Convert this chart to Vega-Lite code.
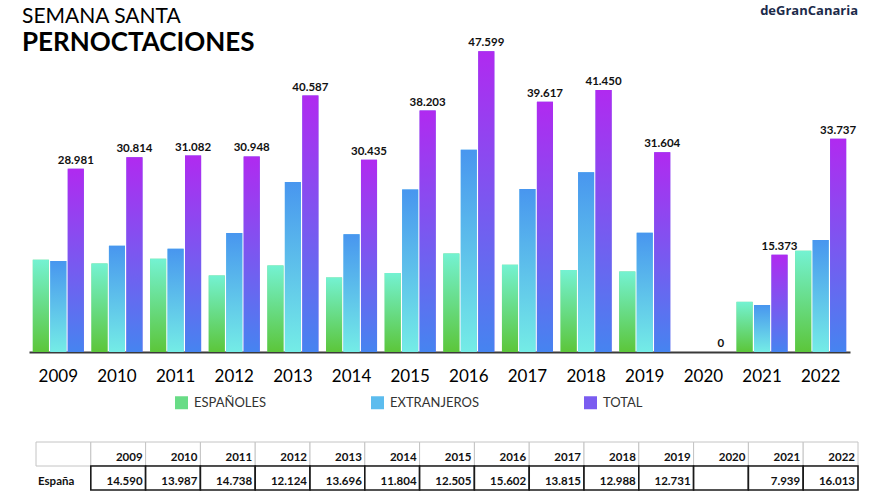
{
  "$schema": "https://vega.github.io/schema/vega-lite/v6.json",
  "padding": {"left": 22, "top": 0, "right": 0, "bottom": 0},
  "background": "white",
  "bounds": "flush",
  "spacing": 90,
  "title": {
    "text": "SEMANA SANTA",
    "subtitle": "PERNOCTACIONES",
    "anchor": "start",
    "orient": "top",
    "frame": "group",
    "offset": -56,
    "dx": -7,
    "font": "Lato",
    "fontSize": 21,
    "fontWeight": "normal",
    "color": "#000000",
    "subtitleFont": "Lato",
    "subtitleFontSize": 26,
    "subtitleFontWeight": "bold",
    "subtitleColor": "#000000",
    "subtitlePadding": 3
  },
  "datasets": {
    "barras": [
      {"anio": "2009", "serie": "ESPAÑOLES", "valor": 14590},
      {"anio": "2009", "serie": "EXTRANJEROS", "valor": 14391},
      {"anio": "2009", "serie": "TOTAL", "valor": 28981},
      {"anio": "2010", "serie": "ESPAÑOLES", "valor": 13987},
      {"anio": "2010", "serie": "EXTRANJEROS", "valor": 16827},
      {"anio": "2010", "serie": "TOTAL", "valor": 30814},
      {"anio": "2011", "serie": "ESPAÑOLES", "valor": 14738},
      {"anio": "2011", "serie": "EXTRANJEROS", "valor": 16344},
      {"anio": "2011", "serie": "TOTAL", "valor": 31082},
      {"anio": "2012", "serie": "ESPAÑOLES", "valor": 12124},
      {"anio": "2012", "serie": "EXTRANJEROS", "valor": 18824},
      {"anio": "2012", "serie": "TOTAL", "valor": 30948},
      {"anio": "2013", "serie": "ESPAÑOLES", "valor": 13696},
      {"anio": "2013", "serie": "EXTRANJEROS", "valor": 26891},
      {"anio": "2013", "serie": "TOTAL", "valor": 40587},
      {"anio": "2014", "serie": "ESPAÑOLES", "valor": 11804},
      {"anio": "2014", "serie": "EXTRANJEROS", "valor": 18631},
      {"anio": "2014", "serie": "TOTAL", "valor": 30435},
      {"anio": "2015", "serie": "ESPAÑOLES", "valor": 12505},
      {"anio": "2015", "serie": "EXTRANJEROS", "valor": 25698},
      {"anio": "2015", "serie": "TOTAL", "valor": 38203},
      {"anio": "2016", "serie": "ESPAÑOLES", "valor": 15602},
      {"anio": "2016", "serie": "EXTRANJEROS", "valor": 31997},
      {"anio": "2016", "serie": "TOTAL", "valor": 47599},
      {"anio": "2017", "serie": "ESPAÑOLES", "valor": 13815},
      {"anio": "2017", "serie": "EXTRANJEROS", "valor": 25802},
      {"anio": "2017", "serie": "TOTAL", "valor": 39617},
      {"anio": "2018", "serie": "ESPAÑOLES", "valor": 12988},
      {"anio": "2018", "serie": "EXTRANJEROS", "valor": 28462},
      {"anio": "2018", "serie": "TOTAL", "valor": 41450},
      {"anio": "2019", "serie": "ESPAÑOLES", "valor": 12731},
      {"anio": "2019", "serie": "EXTRANJEROS", "valor": 18873},
      {"anio": "2019", "serie": "TOTAL", "valor": 31604},
      {"anio": "2020", "serie": "TOTAL", "valor": 0},
      {"anio": "2021", "serie": "ESPAÑOLES", "valor": 7939},
      {"anio": "2021", "serie": "EXTRANJEROS", "valor": 7434},
      {"anio": "2021", "serie": "TOTAL", "valor": 15373},
      {"anio": "2022", "serie": "ESPAÑOLES", "valor": 16013},
      {"anio": "2022", "serie": "EXTRANJEROS", "valor": 17724},
      {"anio": "2022", "serie": "TOTAL", "valor": 33737}
    ],
    "tabla": [
      {"fila": "Año", "col": "", "texto": ""},
      {"fila": "Año", "col": "2009", "texto": "2009"},
      {"fila": "Año", "col": "2010", "texto": "2010"},
      {"fila": "Año", "col": "2011", "texto": "2011"},
      {"fila": "Año", "col": "2012", "texto": "2012"},
      {"fila": "Año", "col": "2013", "texto": "2013"},
      {"fila": "Año", "col": "2014", "texto": "2014"},
      {"fila": "Año", "col": "2015", "texto": "2015"},
      {"fila": "Año", "col": "2016", "texto": "2016"},
      {"fila": "Año", "col": "2017", "texto": "2017"},
      {"fila": "Año", "col": "2018", "texto": "2018"},
      {"fila": "Año", "col": "2019", "texto": "2019"},
      {"fila": "Año", "col": "2020", "texto": "2020"},
      {"fila": "Año", "col": "2021", "texto": "2021"},
      {"fila": "Año", "col": "2022", "texto": "2022"},
      {"fila": "España", "col": "", "texto": "España"},
      {"fila": "España", "col": "2009", "texto": "14.590"},
      {"fila": "España", "col": "2010", "texto": "13.987"},
      {"fila": "España", "col": "2011", "texto": "14.738"},
      {"fila": "España", "col": "2012", "texto": "12.124"},
      {"fila": "España", "col": "2013", "texto": "13.696"},
      {"fila": "España", "col": "2014", "texto": "11.804"},
      {"fila": "España", "col": "2015", "texto": "12.505"},
      {"fila": "España", "col": "2016", "texto": "15.602"},
      {"fila": "España", "col": "2017", "texto": "13.815"},
      {"fila": "España", "col": "2018", "texto": "12.988"},
      {"fila": "España", "col": "2019", "texto": "12.731"},
      {"fila": "España", "col": "2020", "texto": ""},
      {"fila": "España", "col": "2021", "texto": "7.939"},
      {"fila": "España", "col": "2022", "texto": "16.013"}
    ]
  },
  "vconcat": [
    {
      "width": 821,
      "height": 352,
      "data": {"name": "barras"},
      "title": {
        "text": "deGranCanaria",
        "anchor": "end",
        "orient": "top",
        "frame": "group",
        "offset": -18,
        "dx": 8,
        "font": "Open Sans",
        "fontSize": 13,
        "fontWeight": "bold",
        "color": "#1c2b4a"
      },
      "encoding": {
        "x": {
          "field": "anio",
          "type": "nominal",
          "scale": {"paddingInner": 0.13, "paddingOuter": 0.065},
          "axis": {
            "title": null,
            "labelAngle": 0,
            "labelFont": "Lato",
            "labelFontSize": 17,
            "labelColor": "#000000",
            "ticks": false,
            "domainColor": "#3a3a3a",
            "domainWidth": 2,
            "labelPadding": 16
          }
        },
        "xOffset": {
          "field": "serie",
          "type": "nominal",
          "sort": ["ESPAÑOLES", "EXTRANJEROS", "TOTAL"],
          "scale": {"paddingInner": 0.08, "paddingOuter": 0}
        },
        "y": {
          "field": "valor",
          "type": "quantitative",
          "scale": {"domain": [0, 55700], "nice": false},
          "axis": null
        }
      },
      "layer": [
        {
          "mark": {"type": "bar"},
          "encoding": {
            "color": {
              "field": "serie",
              "type": "nominal",
              "scale": {
                "domain": ["ESPAÑOLES", "EXTRANJEROS", "TOTAL"],
                "range": ["#68dc86", "#5cbcee", "#7a5cf0"]
              },
              "legend": {
                "title": null,
                "orient": "none",
                "legendX": 146,
                "legendY": 396,
                "direction": "horizontal",
                "symbolType": "square",
                "symbolSize": 169,
                "symbolStrokeWidth": 0,
                "symbolOpacity": 1,
                "labelFont": "Lato",
                "labelFontSize": 13,
                "labelColor": "#333333",
                "labelOffset": 6,
                "columnPadding": 104
              }
            }
          }
        },
        {
          "transform": [{"filter": "datum.serie == 'ESPAÑOLES'"}],
          "mark": {
            "type": "bar",
            "color": {"gradient": "linear", "x1": 0, "y1": 0, "x2": 0, "y2": 1, "stops": [{"offset": 0, "color": "#74f2d2"}, {"offset": 1, "color": "#5cc63a"}]}
          },
          "encoding": {}
        },
        {
          "transform": [{"filter": "datum.serie == 'EXTRANJEROS'"}],
          "mark": {
            "type": "bar",
            "color": {"gradient": "linear", "x1": 0, "y1": 0, "x2": 0, "y2": 1, "stops": [{"offset": 0, "color": "#4896ef"}, {"offset": 1, "color": "#74ece6"}]}
          },
          "encoding": {}
        },
        {
          "transform": [{"filter": "datum.serie == 'TOTAL'"}],
          "mark": {
            "type": "bar",
            "color": {"gradient": "linear", "x1": 0, "y1": 0, "x2": 0, "y2": 1, "stops": [{"offset": 0, "color": "#b02af0"}, {"offset": 1, "color": "#4684f0"}]}
          },
          "encoding": {}
        },
        {
          "transform": [{"filter": "datum.serie == 'TOTAL'"}],
          "mark": {
            "type": "text",
            "font": "Lato",
            "fontSize": 11.5,
            "fontWeight": "bold",
            "color": "#111111",
            "baseline": "alphabetic",
            "dy": -5
          },
          "encoding": {
            "text": {"field": "valor", "type": "quantitative", "format": ",d"}
          }
        }
      ]
    },
    {
      "width": 829,
      "height": 48,
      "data": {"name": "tabla"},
      "encoding": {
        "x": {
          "field": "col",
          "type": "nominal",
          "scale": {
            "domain": ["", "2009", "2010", "2011", "2012", "2013", "2014", "2015", "2016", "2017", "2018", "2019", "2020", "2021", "2022"],
            "paddingInner": 0,
            "paddingOuter": 0.064,
            "align": 1
          },
          "axis": null
        },
        "y": {
          "field": "fila",
          "type": "nominal",
          "scale": {"domain": ["Año", "España"], "paddingInner": 0, "paddingOuter": 0},
          "axis": null
        }
      },
      "layer": [
        {
          "transform": [{"filter": "datum.fila == 'Año' || datum.col != ''"}],
          "mark": {"type": "rect", "fill": "white"},
          "encoding": {
            "stroke": {
              "field": "fila",
              "type": "nominal",
              "scale": {"domain": ["Año", "España"], "range": ["#c4c4c4", "#1a1a1a"]},
              "legend": null
            },
            "strokeWidth": {
              "field": "fila",
              "type": "nominal",
              "scale": {"domain": ["Año", "España"], "range": [1, 1.6]},
              "legend": null
            }
          }
        },
        {
          "transform": [{"filter": "datum.col != ''"}],
          "mark": {
            "type": "text",
            "font": "Lato",
            "fontSize": 11.5,
            "fontWeight": "bold",
            "color": "#111111",
            "align": "right",
            "baseline": "middle",
            "dx": -3,
            "dy": 4
          },
          "encoding": {
            "x": {"field": "col", "type": "nominal", "bandPosition": 1},
            "text": {"field": "texto", "type": "nominal"}
          }
        },
        {
          "transform": [{"filter": "datum.col == '' && datum.texto != ''"}],
          "mark": {
            "type": "text",
            "font": "Lato",
            "fontSize": 11.5,
            "fontWeight": "bold",
            "color": "#111111",
            "align": "left",
            "baseline": "middle",
            "dx": 2,
            "dy": 4
          },
          "encoding": {
            "x": {"field": "col", "type": "nominal", "bandPosition": 0},
            "text": {"field": "texto", "type": "nominal"}
          }
        }
      ]
    }
  ],
  "resolve": {"scale": {"x": "independent", "y": "independent"}},
  "config": {
    "view": {"stroke": null},
    "locale": {
      "number": {"decimal": ",", "thousands": ".", "grouping": [3], "currency": ["", " €"]}
    }
  }
}
